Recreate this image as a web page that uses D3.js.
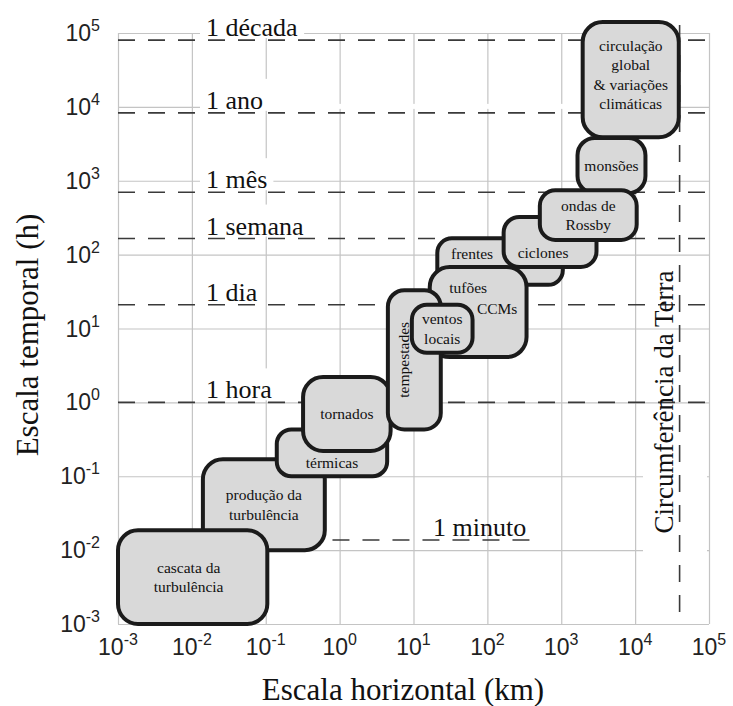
<!DOCTYPE html>
<html><head><meta charset="utf-8">
<script src="https://cdn.jsdelivr.net/npm/d3@7"></script>
<style>body{margin:0;background:#fff}</style>
</head><body><svg id="c" width="733" height="706"></svg>
<script>
// ---------- data ----------
const decades = [1e-3, 1e-2, 1e-1, 1e0, 1e1, 1e2, 1e3, 1e4, 1e5];
const tickExponents = ["-3", "-2", "-1", "0", "1", "2", "3", "4", "5"];

const timeLabels = ["1 década", "1 ano", "1 mês", "1 semana", "1 dia", "1 hora", "1 minuto"];
const timeHours  = [80000, 8300, 700, 165, 21, 1, 0.0137];
const minuteLineExtentKm = [0.8, 400];
const earthCircumferenceKm = 40000;
const earthLabel = "Circumferência da Terra";

const phenomenaLabels = [
  ["circulação", "global", "& variações", "climáticas"],
  ["monsões"],
  ["frentes"],
  ["ciclones"],
  ["ondas de", "Rossby"],
  ["tufões", "CCMs"],
  ["produção da", "turbulência"],
  ["cascata da", "turbulência"],
  ["térmicas"],
  ["tornados"],
  ["tempestades"],
  ["ventos", "locais"]
];
const xMinKm = [1950, 1660, 21, 166, 513, 16.6, 0.0141, 0.001, 0.141, 0.32, 4.5, 9.5];
const xMaxKm = [39000, 13800, 1050, 3000, 10500, 339, 0.63, 0.105, 4.4, 4.9, 23.4, 63];
const yMinH  = [3890, 676, 39, 68, 158, 4.1, 0.01, 0.001, 0.1, 0.22, 0.43, 4.7];
const yMaxH  = [141000, 3800, 166, 324, 741, 68, 0.17, 0.0186, 0.43, 2.2, 33, 21];

const xTitle = "Escala horizontal (km)";
const yTitle = "Escala temporal (h)";

// ---------- layout / style ----------
const L = 118, R = 709, T = 33, B = 624;
const serif = "'Liberation Serif','Times New Roman',serif";
const sans = "'Liberation Sans',Arial,Helvetica,sans-serif";
// per-box label tweaks in pixels: [dx per line], [dy per line], rotate
const labelTweaks = {
  0: {dx:[0,0,0,0], dy:[-5,-5,-5,-5]},
  2: {dx:[-28], dy:[-8]},
  3: {dx:[-7], dy:[11]},
  5: {dx:[-10, 19], dy:[-24, -3], abs:true},
  7: {dx:[-4,-4], dy:[0,0]},
  8: {dx:[0], dy:[10]},
  10: {dx:[-11], dy:[0], rotate:true}
};

const svg = d3.select("#c");
const x = d3.scaleLog().domain([1e-3, 1e5]).range([L, R]);
const y = d3.scaleLog().domain([1e-3, 1e5]).range([B, T]);

// ---------- grid ----------
const grid = svg.append("g");
const gx = grid.append("g").attr("transform", `translate(0,${B})`)
  .call(d3.axisBottom(x).tickValues(decades).tickSize(-(B - T)).tickFormat(""));
const gy = grid.append("g").attr("transform", `translate(${L},0)`)
  .call(d3.axisLeft(y).tickValues(decades).tickSize(-(R - L)).tickFormat(""));
grid.selectAll(".domain").remove();
grid.selectAll(".tick line").attr("stroke", "#c4c4c4").attr("stroke-width", 1.2);

// white patches (edited-out areas in the original)
svg.append("rect").attr("x", 200).attr("y", y(1e4) - 3).attr("width", x(1950) - 200).attr("height", 5).attr("fill", "#fff");
svg.append("rect").attr("x", 643).attr("y", 412).attr("width", R - 645).attr("height", 190).attr("fill", "#fff");

// ---------- tick labels ----------
const xl = svg.append("g").attr("font-family", sans).attr("fill", "#222");
decades.forEach((d, i) => {
  const t = xl.append("text").attr("x", x(d)).attr("y", 655).attr("text-anchor", "middle").attr("font-size", 23);
  t.append("tspan").text("10");
  t.append("tspan").attr("dy", -10).attr("font-size", 16).text(tickExponents[i]);
});
const yl = svg.append("g").attr("font-family", sans).attr("fill", "#222");
decades.forEach((d, i) => {
  const t = yl.append("text").attr("x", 100).attr("y", y(d) + 8).attr("text-anchor", "end").attr("font-size", 23);
  t.append("tspan").text("10");
  t.append("tspan").attr("dy", -10).attr("font-size", 16).text(tickExponents[i]);
});

// ---------- time labels + dashed lines ----------
const tl = svg.append("g");
timeLabels.forEach((lab, i) => {
  const yy = y(timeHours[i]);
  const isMin = i === timeLabels.length - 1;
  const tx = isMin ? 433 : 206;
  const txt = tl.append("text").attr("x", tx).attr("y", yy - 4)
    .attr("font-family", serif).attr("font-size", 26).attr("fill", "#111").text(lab);
  const bb = txt.node().getBBox();
  tl.insert("rect", "text").attr("x", isMin ? bb.x : 200).attr("y", isMin ? bb.y + 4 : yy - 34)
    .attr("width", isMin ? 0 : bb.x + bb.width + 6 - 200).attr("height", isMin ? 0 : 32).attr("fill", "#fff");
  const x0 = isMin ? x(minuteLineExtentKm[0]) : L;
  const x1 = isMin ? x(minuteLineExtentKm[1]) : R;
  tl.append("line").attr("x1", x0).attr("x2", x1).attr("y1", yy).attr("y2", yy)
    .attr("stroke", "#3a3a3a").attr("stroke-width", 1.6).attr("stroke-dasharray", "17,13");
});

// earth circumference
const ex = x(earthCircumferenceKm);
svg.append("line").attr("x1", ex).attr("x2", ex).attr("y1", 25).attr("y2", B)
  .attr("stroke", "#3a3a3a").attr("stroke-width", 1.6).attr("stroke-dasharray", "17,13");
svg.append("text").attr("transform", `translate(673,402) rotate(-90)`)
  .attr("text-anchor", "middle").attr("font-family", serif).attr("font-size", 27).attr("fill", "#111").text(earthLabel);

// ---------- boxes ----------
const boxes = svg.append("g");
phenomenaLabels.forEach((lines, i) => {
  const x0 = x(xMinKm[i]), x1 = x(xMaxKm[i]), y0 = y(yMaxH[i]), y1 = y(yMinH[i]);
  const w = x1 - x0, h = y1 - y0;
  const r = Math.min(20, w / 3.2, h / 3.2);
  const g = boxes.append("g");
  g.append("rect").attr("x", x0).attr("y", y0).attr("width", w).attr("height", h)
    .attr("rx", r).attr("ry", r).attr("fill", "#d9d9d9").attr("stroke", "#1b1b1b").attr("stroke-width", 4);
  const cx = (x0 + x1) / 2, cy = (y0 + y1) / 2;
  const tw = labelTweaks[i] || {};
  const lh = 19.5;
  lines.forEach((ln, j) => {
    const dx = tw.dx ? tw.dx[j] : 0;
    const dy = tw.dy ? tw.dy[j] : 0;
    const ly = tw.abs ? cy + dy : cy + (j - (lines.length - 1) / 2) * lh + dy;
    const t = g.append("text").attr("font-family", serif).attr("font-size", 15.5).attr("fill", "#111")
      .attr("text-anchor", "middle").attr("dy", "0.35em").text(ln);
    if (tw.rotate) t.attr("transform", `translate(${cx + dx},${ly}) rotate(-90)`);
    else t.attr("x", cx + dx).attr("y", ly);
  });
});

// ---------- axis titles ----------
svg.append("text").attr("x", 403).attr("y", 700).attr("text-anchor", "middle")
  .attr("font-family", serif).attr("font-size", 31).attr("fill", "#111").text(xTitle);
svg.append("text").attr("transform", "translate(38,335) rotate(-90)").attr("text-anchor", "middle")
  .attr("font-family", serif).attr("font-size", 31).attr("fill", "#111").text(yTitle);
</script></body></html>
